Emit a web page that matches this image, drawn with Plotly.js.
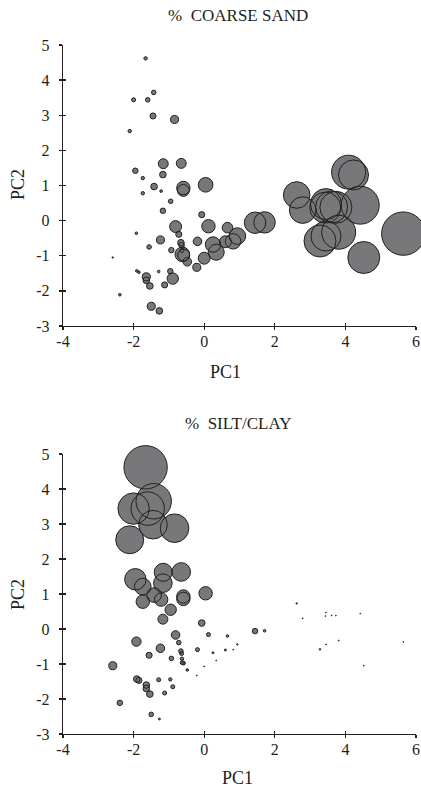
<!DOCTYPE html>
<html>
<head>
<meta charset="utf-8">
<script src="https://cdn.plot.ly/plotly-3.0.1.min.js"></script>
<style>html,body{margin:0;padding:0;background:#fff;}#chart{width:421px;height:787px;}</style>
</head>
<body>
<div id="chart"></div>
<script>
// PCA scores (shared by both panels)
const pc1 = [-1.66,-1.43,-2.00,-1.60,-1.45,-0.84,-2.11,-1.95,-1.16,-0.65,
             -1.17,-1.74,-1.42,-1.74,-1.22,-0.59,-0.59,0.04,-0.95,-1.17,
             -0.07,-0.81,0.12,0.66,-0.72,-1.92,-1.24,-1.56,-0.19,-0.66,
             -0.64,-0.93,-0.62,-0.63,-0.58,-0.48,0.00,-0.21,0.25,0.34,
             0.60,0.82,0.94,-2.59,-1.91,-1.85,-1.29,-0.96,-0.89,-1.64,
             -1.64,-1.54,-1.12,-2.39,-1.50,-1.27,1.44,1.71,2.62,2.79,
             3.45,3.43,3.61,3.73,4.42,3.45,3.28,3.81,5.64,4.52,
             4.09,4.23];
const pc2 = [4.62,3.65,3.44,3.44,2.98,2.88,2.55,1.42,1.62,1.63,
             1.31,1.21,0.97,0.78,0.84,0.93,0.86,1.02,0.55,0.28,
             0.17,-0.17,-0.16,-0.20,-0.39,-0.36,-0.55,-0.75,-0.59,-0.63,
             -0.70,-0.84,-0.96,-0.85,-0.98,-1.17,-1.07,-1.33,-0.68,-0.90,
             -0.60,-0.59,-0.44,-1.05,-1.43,-1.47,-1.45,-1.44,-1.65,-1.60,
             -1.70,-1.86,-1.83,-2.11,-2.44,-2.57,-0.06,-0.05,0.73,0.30,
             0.47,0.37,0.39,0.38,0.44,-0.44,-0.58,-0.33,-0.37,-1.05,
             1.38,1.30];
// % coarse sand (bubble area, top panel)
const coarseSand = [0.5,0.9,0.7,0.9,1.6,2.8,0.5,1.3,4.3,4.3,
                    1.9,0.5,1.9,0.5,0.3,7.8,6.2,9.3,0.9,1.3,
                    1.6,6.2,7.8,4.9,1.6,0.3,2.8,0.9,3.2,1.9,
                    1.3,1.3,9.3,0.7,6.2,3.2,6.2,2.8,10.3,11.1,
                    6.2,10.3,12.0,0.09,0.3,0.3,0.3,1.3,5.6,2.8,
                    1.9,1.9,1.6,0.3,2.8,1.9,19.9,19.9,30.7,30.7,
                    41.7,41.7,44.4,44.4,62.7,39.0,44.4,50.0,81.7,44.4,
                    50.0,39.0];
// % silt/clay (bubble area, bottom panel)
const siltClay = [81.7,54.4,42.8,48.4,35.5,35.5,34.0,19.9,14.1,15.0,
                  15.0,12.0,9.3,7.8,7.8,7.8,7.8,7.8,5.6,4.3,
                  1.9,3.2,0.7,0.3,0.9,3.8,3.2,1.6,0.7,0.9,
                  0.7,0.9,0.7,0.5,0.5,0.3,0.04,0.04,0.17,0.04,
                  0.17,0.04,0.09,2.8,1.9,1.6,0.7,0.5,0.7,1.9,
                  1.9,1.9,0.7,1.3,0.9,0.17,1.3,0.3,0.09,0.04,
                  0.03,0.03,0.03,0.03,0.03,0.04,0.11,0.04,0.03,0.03,
                  0,0];
const xTicks = [-4,-2,0,2,4,6];
const xTickText = ['-4','-2','0','2','4','6'];
const yTicks = [-3,-2,-1,0,1,2,3,4,5];
const yTickText = ['-3','-2','-1','0','1','2','3','4','5'];
const panelTitles = ['%  COARSE SAND','%  SILT/CLAY'];
const xTitle = 'PC1', yTitle = 'PC2';

const FONT = 'Liberation Serif';
const INK = '#231f20';
const FILL = 'rgb(120,120,123)';
const SIZEREF = 100/(2*24*24);

function fillTrace(vals, xa, ya){
  return {type:'scatter', mode:'markers', x:pc1, y:pc2, xaxis:xa, yaxis:ya, cliponaxis:false,
    hoverinfo:'skip', showlegend:false,
    marker:{size:vals, sizemode:'area', sizeref:SIZEREF, color:FILL, opacity:1, line:{width:0}}};
}
function lineTrace(vals, xa, ya){
  return {type:'scatter', mode:'markers', x:pc1, y:pc2, xaxis:xa, yaxis:ya, cliponaxis:false,
    hoverinfo:'skip', showlegend:false,
    marker:{size:vals, sizemode:'area', sizeref:SIZEREF, color:'rgba(0,0,0,0)', opacity:1, line:{width:1, color:INK}}};
}
const data = [
  fillTrace(coarseSand,'x','y'), lineTrace(coarseSand,'x','y'),
  fillTrace(siltClay,'x2','y2'), lineTrace(siltClay,'x2','y2'),
  {type:'scatter', x:[], y:[], xaxis:'x3', yaxis:'y3', showlegend:false},
  {type:'scatter', x:[], y:[], xaxis:'x4', yaxis:'y4', showlegend:false}
];

const W = 421, H = 787;
const M = {l:63, r:5, t:45, b:53};
const PW = W - M.l - M.r, PH = H - M.t - M.b;
const botPx = H - M.b;
const topDom = [(botPx-326)/PH, 1];
const botDom = [0, (botPx-454)/PH];
function px(x){ return (x - M.l)/PW; }
function py(y){ return (botPx - y)/PH; }

function xAx(dom, anchor){
  return {domain:[0,1], anchor:anchor, range:[-4,6], showgrid:false, zeroline:false,
    showline:true, linecolor:INK, linewidth:1.3, ticks:'outside', ticklen:3, tickwidth:1.3, tickcolor:INK,
    tickmode:'array', tickvals:xTicks, ticktext:xTickText, ticklabelstandoff:-3,
    tickfont:{family:FONT, size:16, color:INK}};
}
function yAx(dom, anchor){
  return {domain:dom, anchor:anchor, range:[-3,5], showgrid:false, zeroline:false,
    showline:true, linecolor:INK, linewidth:1.3, ticks:'outside', ticklen:3, tickwidth:1.3, tickcolor:INK,
    tickmode:'array', tickvals:yTicks, ticktext:yTickText, ticklabelstandoff:6,
    tickfont:{family:FONT, size:16, color:INK}};
}
function inX(base, anchor){
  return {overlaying:base, anchor:anchor, range:[-4,6], showgrid:false, zeroline:false, showline:false,
    ticks:'inside', ticklen:3, tickwidth:1.3, tickcolor:INK, tickmode:'array', tickvals:xTicks, showticklabels:false};
}
function inY(base, anchor){
  return {overlaying:base, anchor:anchor, range:[-3,5], showgrid:false, zeroline:false, showline:false,
    ticks:'inside', ticklen:3, tickwidth:1.3, tickcolor:INK, tickmode:'array', tickvals:yTicks, showticklabels:false};
}

function ann(text, x, y, size, rot){
  return {text:text, xref:'paper', yref:'paper', x:px(x), y:py(y), xanchor:'center', yanchor:'middle',
    showarrow:false, textangle:rot||0, font:{family:FONT, size:size, color:INK}};
}

const layout = {
  width:W, height:H, margin:M, paper_bgcolor:'#fff', plot_bgcolor:'rgba(0,0,0,0)', showlegend:false,
  xaxis:xAx(topDom,'y'), yaxis:yAx(topDom,'x'),
  xaxis2:xAx(botDom,'y2'), yaxis2:yAx(botDom,'x2'),
  xaxis3:inX('x','y3'), yaxis3:inY('y','x3'),
  xaxis4:inX('x2','y4'), yaxis4:inY('y2','x4'),
  annotations:[
    ann(panelTitles[0], 238, 16, 17), ann(panelTitles[1], 238, 423, 17),
    ann(xTitle, 225, 372, 18), ann(xTitle, 237, 778, 18),
    ann(yTitle, 18, 185, 18, -90), ann(yTitle, 18, 595, 18, -90)
  ]
};
Plotly.newPlot('chart', data, layout, {staticPlot:true, displayModeBar:false});
</script>
</body>
</html>
